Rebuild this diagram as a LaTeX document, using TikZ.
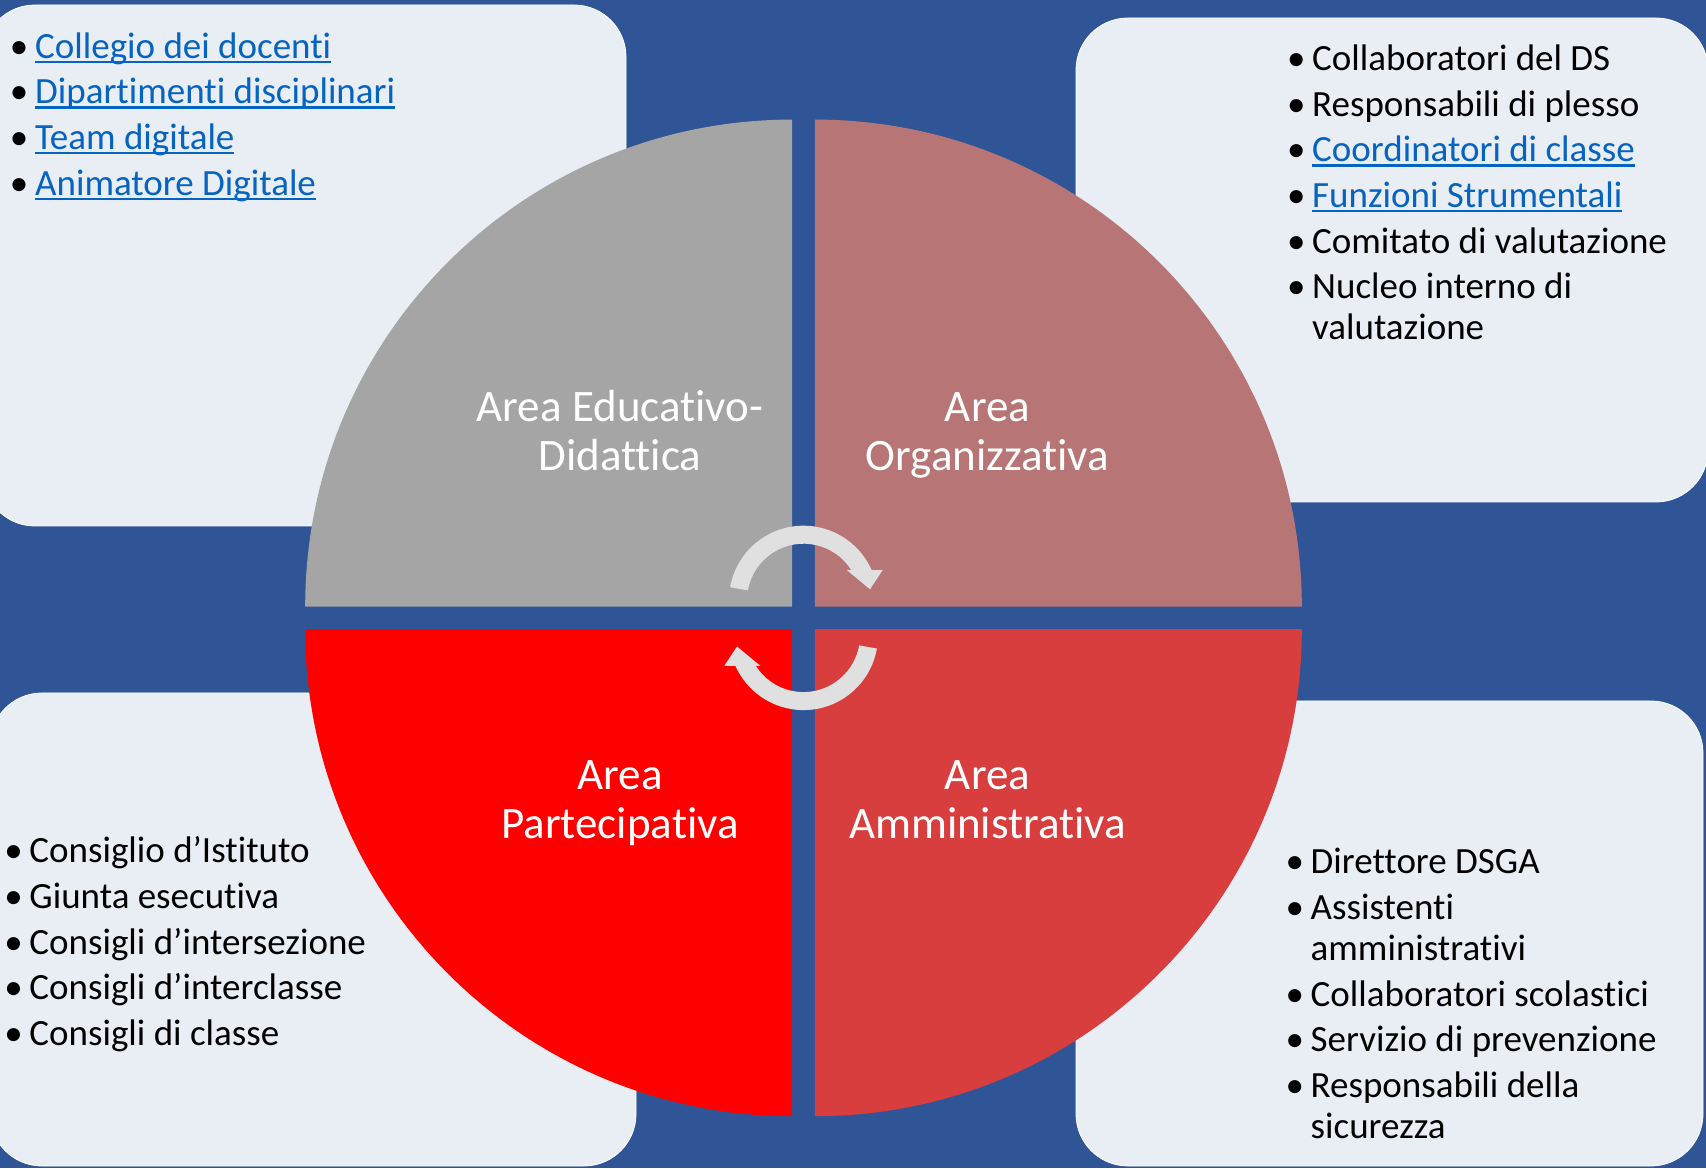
\documentclass[tikz,border=0pt]{standalone}
\usepackage{fontspec}
\setmainfont{Carlito}[Ligatures={NoCommon,NoContextual}]
\usepackage{tikz}

\definecolor{bgblue}{HTML}{2F5597}
\definecolor{boxfill}{HTML}{E9EDF4}
\definecolor{edugray}{HTML}{A5A5A5}
\definecolor{orgrose}{HTML}{B87575}
\definecolor{parred}{HTML}{FF0000}
\definecolor{ammred}{HTML}{D93E3E}
\definecolor{cyclegray}{HTML}{E0E0E0}
\definecolor{linkblue}{HTML}{0563C1}

% blue underlined entries
\newcommand{\lnk}[1]{\textcolor{linkblue}{\setbox0\hbox{#1}\rlap{\rule[-5pt]{\wd0}{2.4pt}}\box0}}
% bullet centred on the left edge of the list
\newcommand{\itm}{\makebox[0pt]{\textbullet}}

\begin{document}
\begin{tikzpicture}[x=1pt,y=1pt,
    box/.style={fill=boxfill,draw=white,line width=0.8pt,rounded corners=52pt},
    area/.style={text=white,font=\fontsize{45}{49}\selectfont,inner sep=0pt,anchor=base},
    list/.style={font=\fontsize{37}{41}\selectfont,inner sep=0pt,anchor=base west}]
    \useasboundingbox (0,0) rectangle (1706,1168);
    \clip (0,0) rectangle (1706,1168);
    \fill[bgblue] (0,0) rectangle (1706,1168);
    % Text boxes behind the circle
    \draw[box] (-17,642) rectangle (626,1163);
    \draw[box] (1076,666) rectangle (1708,1150);
    \draw[box] (-10,2) rectangle (636,475);
    \draw[box] (1076,2) rectangle (1703,467);
    % Four quarters of the circle
    \fill[edugray] (792.2,561.4) -- ++(-487,0) arc[start angle=180,end angle=90,radius=487] -- cycle;
    \fill[orgrose] (814.8,561.4) -- ++(0,487) arc[start angle=90,end angle=0,radius=487] -- cycle;
    \fill[parred] (792.2,538.8) -- ++(0,-487) arc[start angle=270,end angle=180,radius=487] -- cycle;
    \fill[ammred] (814.8,538.8) -- ++(487,0) arc[start angle=0,end angle=-90,radius=487] -- cycle;
    % Cycle arrows (the lower one is the upper one turned half round)
    \foreach \turn in {0,180} {
      \fill[cyclegray,rotate around={\turn:(803.5,550.1)},shift={(803.5,567.8)}]
        (170:74.5) arc[start angle=170,end angle=23.9,radius=74.5]
        -- (79.2,30.2) -- (66.5,10.9) -- (43.2,30.2)
        -- (32.3:56.5) arc[start angle=32.3,end angle=170,radius=56.5] -- cycle;
    }
    % Area labels
    \node[area] (lbl-edu) at (620,746.3) {\begin{tabular}[t]{@{}c@{}}Area Educativo-\\Didattica\end{tabular}};
    \node[area] (lbl-org) at (987.5,746.3) {\begin{tabular}[t]{@{}c@{}}Area\\Organizzativa\end{tabular}};
    \node[area] (lbl-par) at (620,378.7) {\begin{tabular}[t]{@{}c@{}}Area\\Partecipativa\end{tabular}};
    \node[area] (lbl-amm) at (987.5,378.7) {\begin{tabular}[t]{@{}c@{}}Area\\Amministrativa\end{tabular}};
    % Lists
    \node[list] (list-edu) at (19,1109.7) {\begin{tabular}[t]{@{}l@{\hspace{16pt}}l@{}}
      \itm & \lnk{Collegio dei docenti}\\[4.6pt]
      \itm & \lnk{Dipartimenti disciplinari}\\[4.6pt]
      \itm & \lnk{Team digitale}\\[4.6pt]
      \itm & \lnk{Animatore Digitale}
    \end{tabular}};
    \node[list] (list-org) at (1296,1097.3) {\begin{tabular}[t]{@{}l@{\hspace{16pt}}l@{}}
      \itm & Collaboratori del DS\\[4.6pt]
      \itm & Responsabili di plesso\\[4.6pt]
      \itm & \lnk{Coordinatori di classe}\\[4.6pt]
      \itm & \lnk{Funzioni Strumentali}\\[4.6pt]
      \itm & Comitato di valutazione\\[4.6pt]
      \itm & Nucleo interno di\\
           & valutazione
    \end{tabular}};
    \node[list] (list-par) at (13.3,305) {\begin{tabular}[t]{@{}l@{\hspace{16pt}}l@{}}
      \itm & Consiglio d’Istituto\\[4.6pt]
      \itm & Giunta esecutiva\\[4.6pt]
      \itm & Consigli d’intersezione\\[4.6pt]
      \itm & Consigli d’interclasse\\[4.6pt]
      \itm & Consigli di classe
    \end{tabular}};
    \node[list] (list-amm) at (1294.5,294) {\begin{tabular}[t]{@{}l@{\hspace{16pt}}l@{}}
      \itm & Direttore DSGA\\[4.6pt]
      \itm & Assistenti\\
           & amministrativi\\[4.6pt]
      \itm & Collaboratori scolastici\\[4.6pt]
      \itm & Servizio di prevenzione\\[4.6pt]
      \itm & Responsabili della\\
           & sicurezza
    \end{tabular}};
\end{tikzpicture}
\end{document}
